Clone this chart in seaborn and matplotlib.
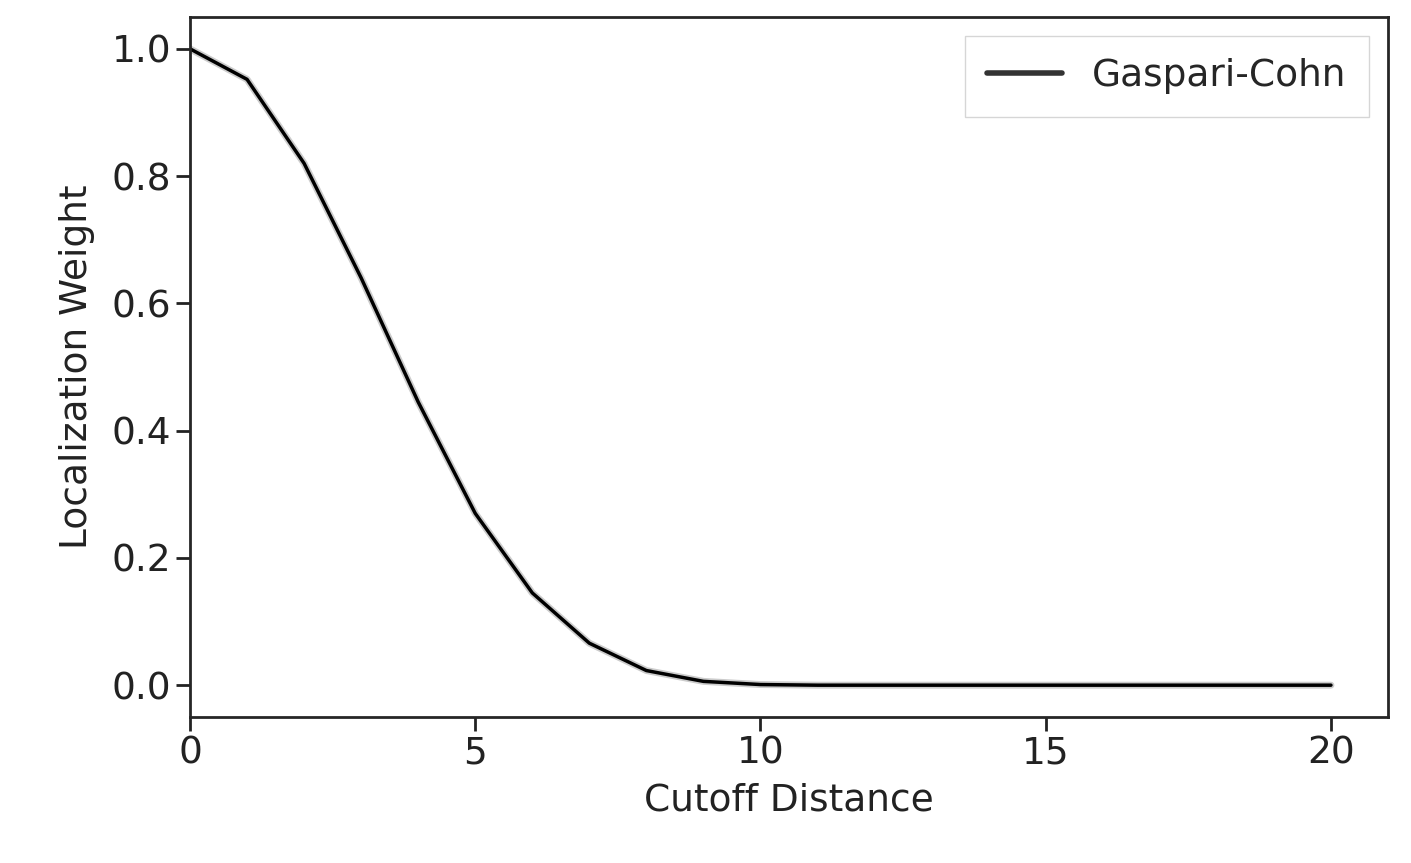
import matplotlib
matplotlib.use("Agg")
import matplotlib.pyplot as plt
import seaborn as sns
import pandas as pd

distance = list(range(0, 21))
weight = [1.0, 0.952, 0.82, 0.64, 0.445, 0.27, 0.145, 0.066, 0.023, 0.006, 0.001,
          0, 0, 0, 0, 0, 0, 0, 0, 0, 0]

sns.set_style("ticks")
plt.rcParams['font.family'] = ['DejaVu Sans']
df = pd.DataFrame({"Cutoff Distance": distance, "Localization Weight": weight})

fig = plt.figure(figsize=(14.11, 8.63), dpi=100)
ax = fig.add_axes([190/1411, 1-717/863, (1388-190)/1411, (717-17)/863])
sns.lineplot(data=df, x="Cutoff Distance", y="Localization Weight", ax=ax,
             color="#cccccc", linewidth=5, zorder=1)
sns.lineplot(data=df, x="Cutoff Distance", y="Localization Weight", ax=ax,
             color="black", linewidth=2.5, label="Gaspari-Cohn", zorder=2)
ax.set_xlim(0, 21)
ax.set_ylim(-0.05, 1.05)
ax.set_xticks([0, 5, 10, 15, 20])
ax.set_yticks([0, 0.2, 0.4, 0.6, 0.8, 1.0])
ax.set_yticklabels(["0.0", "0.2", "0.4", "0.6", "0.8", "1.0"])
ax.tick_params(labelsize=27, width=2, length=10, colors="#222222")
ax.set_xlabel("Cutoff Distance", fontsize=27, color="#222222", labelpad=8)
ax.set_ylabel("Localization Weight", fontsize=27, color="#222222", labelpad=12)
for s in ax.spines.values():
    s.set_linewidth(2)
leg = ax.legend(fontsize=27, loc="upper right", handlelength=2, borderpad=0.6,
                fancybox=False)
for l in leg.get_lines():
    l.set_color("#333333"); l.set_linewidth(4)
fig.savefig("out.png", dpi=100)
